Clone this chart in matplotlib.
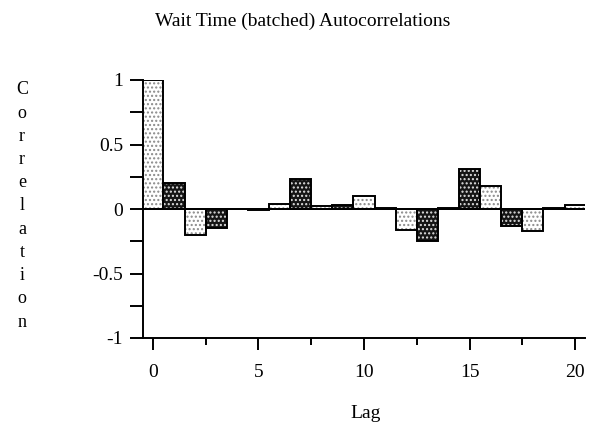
import matplotlib
matplotlib.use("Agg")
import matplotlib.pyplot as plt
import numpy as np

lags = list(range(21))
acf = [1.00, 0.20, -0.20, -0.15, 0.00, -0.01, 0.04, 0.23, 0.02, 0.03, 0.10,
       0.01, -0.16, -0.25, 0.01, 0.31, 0.18, -0.13, -0.17, 0.01, 0.03]
title = "Wait Time (batched) Autocorrelations"
xlabel = "Lag"
ylabel = "Correlation"
xticks = [0, 5, 10, 15, 20]
yticks = [-1, -0.5, 0, 0.5, 1]
yticklabels = ["-1", "-0.5", "0", "0.5", "1"]

plt.rcParams['font.family'] = ['Liberation Serif', 'DejaVu Serif']
plt.rcParams['hatch.linewidth'] = 1.0

fig = plt.figure(figsize=(5.94, 4.30), dpi=100)
ax = fig.add_axes([143/594, 1-338/430, (585-143)/594, (338-80)/430])

x = np.array(lags)
v = np.array(acf)
even = x % 2 == 0
odd = ~even
# light bars
ax.bar(x[even], v[even], width=1.0, color='white', edgecolor='#8a8a8a',
       hatch='....', linewidth=0, zorder=2)
# dark bars
ax.bar(x[odd], v[odd], width=1.0, color='#151515', edgecolor='#e0e0e0',
       hatch='....', linewidth=0, zorder=2)
# outlines
ax.bar(x, v, width=1.0, fill=False, edgecolor='black', linewidth=1.4, zorder=3)
ax.axhline(0, color='black', linewidth=1.4, zorder=4)

ax.set_xlim(-0.47, 20.47)
ax.set_ylim(-1, 1)
for s in ['top', 'right']:
    ax.spines[s].set_visible(False)
for s in ['left', 'bottom']:
    ax.spines[s].set_linewidth(1.4)

ax.set_xticks(xticks)
ax.set_xticks(np.arange(0, 21, 2.5), minor=True)
ax.set_yticks(yticks)
ax.set_yticklabels(yticklabels)
ax.set_yticks(np.arange(-1, 1.01, 0.25), minor=True)
ax.tick_params(axis='x', which='major', length=8.6, width=1.4, pad=10, labelsize=14)
ax.tick_params(axis='x', which='minor', length=5, width=1.4)
ax.tick_params(axis='y', which='both', length=9.4, width=1.4, pad=5, labelsize=14)

fig.text(303/594, 1-21/430, title, ha='center', va='center', fontsize=14)
fig.text(366/594, 1-414/430, xlabel, ha='center', va='center', fontsize=14)
fig.text(22/594, 1-206/430, "\n".join(ylabel), ha='center', va='center',
         fontsize=13, linespacing=1.48)

fig.savefig("out.png", dpi=100)
